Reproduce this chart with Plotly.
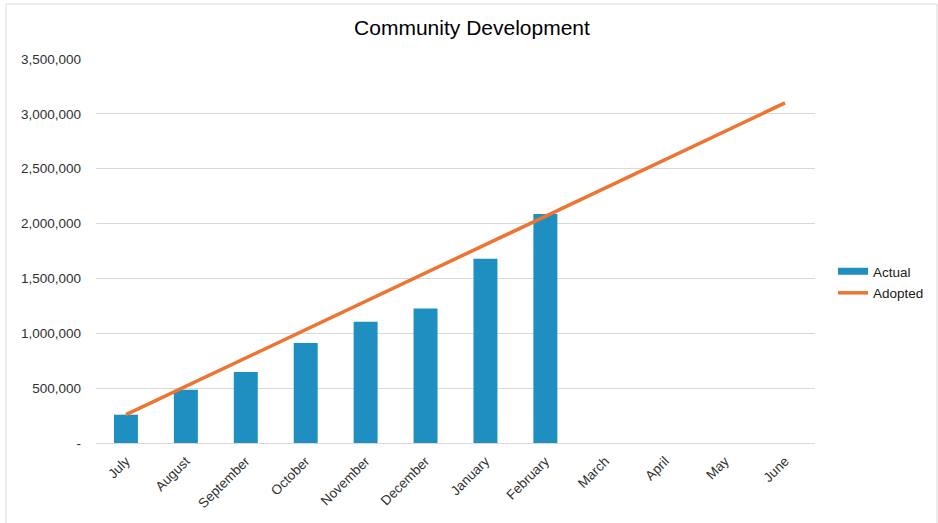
import plotly.graph_objects as go

months = ["July", "August", "September", "October", "November", "December",
          "January", "February", "March", "April", "May", "June"]
actual = [258000, 486000, 647000, 911000, 1106000, 1227000, 1680000, 2087000]
adopted = [258333, 516667, 775000, 1033333, 1291667, 1550000,
           1808333, 2066667, 2325000, 2583333, 2841667, 3100000]
y_ticks = [0, 500000, 1000000, 1500000, 2000000, 2500000, 3000000, 3500000]
y_tick_labels = ["-", "500,000", "1,000,000", "1,500,000", "2,000,000",
                 "2,500,000", "3,000,000", "3,500,000"]

BLUE = "#1f8fc1"
ORANGE = "#ed7431"

W, H = 938, 523
L, R, T, B = 96, 123, 59, 80
pw, ph = W - L - R, H - T - B

fig = go.Figure()
fig.add_trace(go.Bar(x=months[:len(actual)], y=actual, name="Actual",
                     marker=dict(color=BLUE, line=dict(width=0)),
                     showlegend=False))
# legend entry for Actual drawn as a wide bar swatch
fig.add_trace(go.Scatter(x=[None], y=[None], name="Actual", mode="lines",
                         line=dict(color=BLUE, width=7), legendgroup="a"))
fig.add_trace(go.Scatter(x=months, y=adopted, name="Adopted", mode="lines",
                         line=dict(color=ORANGE, width=3.5), legendgroup="b"))

def px_x(p):
    return (p - L) / pw

def px_y(p):
    return (H - B - p) / ph

fig.update_layout(
    width=W, height=H,
    margin=dict(l=L, r=R, t=T, b=B, autoexpand=False),
    paper_bgcolor="white", plot_bgcolor="white",
    font=dict(family="Liberation Sans, Arial, sans-serif", size=13.5, color="#404040"),
    title=dict(text="Community Development", x=472 / W, xanchor="center",
               y=1 - 28 / H, yanchor="middle",
               font=dict(size=21, color="#000000")),
    bargap=0.6,
    showlegend=True,
    legend=dict(x=px_x(833), y=px_y(256), xanchor="left", yanchor="top",
                font=dict(size=13.5, color="#202020"), tracegroupgap=1,
                itemwidth=30, bgcolor="rgba(0,0,0,0)"),
    xaxis=dict(categoryorder="array", categoryarray=months, tickangle=-45,
               showgrid=False, showline=True, linecolor="#d9d9d9", linewidth=1,
               ticks="", tickfont=dict(size=13.5, color="#303030"),
               range=[-0.5, 11.5], ticklabelstandoff=4),
    yaxis=dict(range=[0, 3500000], tickvals=y_ticks, ticktext=y_tick_labels,
               showgrid=True, gridcolor="#d9d9d9", gridwidth=1,
               zeroline=False, showline=False, ticks="",
               tickfont=dict(size=13.5, color="#303030"), ticklabelstandoff=14),
    shapes=[dict(type="rect", xref="paper", yref="paper",
                 x0=px_x(6), x1=px_x(937), y0=px_y(530), y1=px_y(4),
                 line=dict(color="#d9d9d9", width=1), fillcolor="rgba(0,0,0,0)",
                 layer="below")],
)

fig.write_html("out.html")
